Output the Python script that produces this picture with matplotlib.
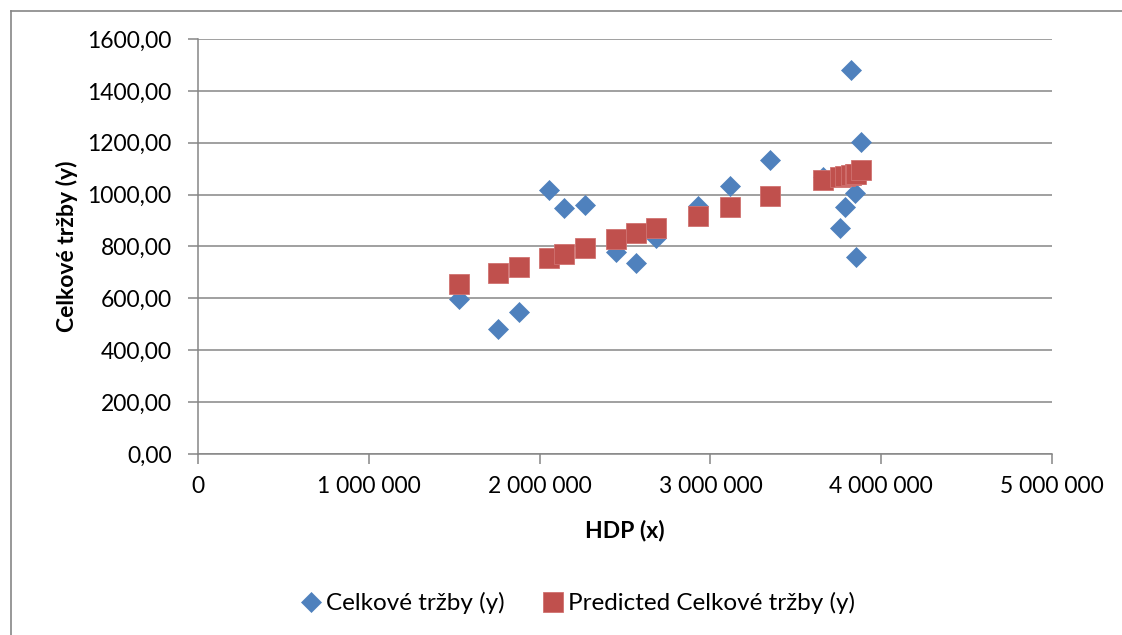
import matplotlib
matplotlib.use("Agg")
import matplotlib.pyplot as plt
from matplotlib.lines import Line2D

hdp = [1528000, 1756000, 1879000, 2055000, 2143000, 2266000, 2447000,
       2564000, 2681000, 2927000, 3115000, 3349000, 3659000, 3759000,
       3788000, 3823000, 3847000, 3850000, 3882000]
trzby = [598, 482, 547, 1018, 948, 960, 779,
         736, 833, 955, 1033, 1133, 1068, 871,
         952, 1480, 1006, 759, 1203]
predicted = [655, 698, 721, 756, 771, 794, 829,
             852, 871, 917, 952, 995, 1056, 1068,
             1072, 1076, 1079, 1080, 1095]

x_ticks = [0, 1000000, 2000000, 3000000, 4000000, 5000000]
x_labels = ["0", "1 000 000", "2 000 000", "3 000 000", "4 000 000", "5 000 000"]
y_ticks = [0, 200, 400, 600, 800, 1000, 1200, 1400, 1600]
y_labels = ["0,00", "200,00", "400,00", "600,00", "800,00", "1000,00",
            "1200,00", "1400,00", "1600,00"]

plt.rcParams['font.family'] = ['Lato', 'DejaVu Sans']

blue = '#4F81BD'
red = '#C0504D'
gray = '#868686'

fig = plt.figure(figsize=(11.22, 6.35), dpi=100)
ax = fig.add_axes([198/1122, 181/635, 854/1122, 415/635])

ax.plot(hdp, trzby, linestyle='none', marker='D', markersize=10.2,
        color=blue, markeredgecolor=blue, markeredgewidth=0.5,
        label='Celkové tržby (y)', zorder=3)
ax.plot(hdp, predicted, linestyle='none', marker='s', markersize=14.4,
        color=red, markeredgecolor='#D07270', markeredgewidth=0.6,
        label='Predicted Celkové tržby (y)', zorder=4)

ax.set_xlim(0, 5000000)
ax.set_ylim(0, 1600)
ax.set_xticks(x_ticks, x_labels)
ax.set_yticks(y_ticks, y_labels)

for s in ['top', 'right']:
    ax.spines[s].set_visible(False)
for s in ['left', 'bottom']:
    ax.spines[s].set_color(gray)
    ax.spines[s].set_linewidth(1.1)

ax.grid(axis='y', color=gray, linewidth=1.1)
ax.set_axisbelow(True)
ax.tick_params(axis='both', direction='out', length=7, width=1.1,
               color=gray, labelsize=16.5, labelcolor='black')
ax.tick_params(axis='y', pad=12)
ax.tick_params(axis='x', pad=9)

ax.set_xlabel('HDP (x)', fontsize=16.5, fontweight='bold', labelpad=16)
ax.set_ylabel('Celkové tržby (y)', fontsize=16.5, fontweight='bold', labelpad=7)

fig.legend(loc='center', bbox_to_anchor=(577/1122, 1 - 603/635), ncol=2,
           frameon=False, fontsize=17.5, handletextpad=0.1,
           columnspacing=1.5, handlelength=1.0)

# outer chart border (only left and top edges visible)
fig.add_artist(Line2D([10.5/1122, 10.5/1122], [0, 1 - 10.5/635],
                      transform=fig.transFigure, color=gray, linewidth=1.2))
fig.add_artist(Line2D([10.5/1122, 1], [1 - 10.5/635, 1 - 10.5/635],
                      transform=fig.transFigure, color=gray, linewidth=1.2))

fig.savefig('out.png', dpi=100)
